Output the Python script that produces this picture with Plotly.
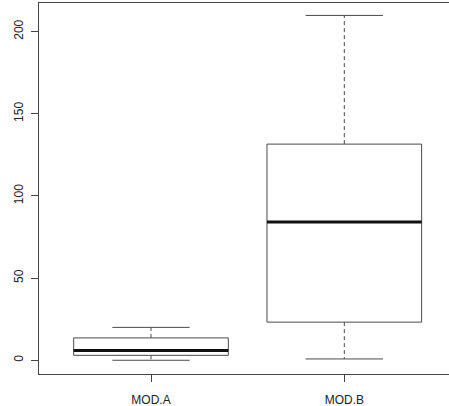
import plotly.graph_objects as go

categories = ["MOD.A", "MOD.B"]
positions = [1, 2]
lower_whisker = [0, 0.8]
q1_vals = [3.0, 23.2]
medians = [5.9, 84.1]
q3_vals = [13.6, 131.5]
upper_whisker = [20, 209.8]
y_tick_vals = [0, 50, 100, 150, 200]

BOXWEX = 0.8
STAPLE = 0.4
LINE = "#4a4a4a"

fig = go.Figure()

for i, cat in enumerate(categories):
    p = positions[i]
    fig.add_trace(go.Box(
        x=[p], q1=[q1_vals[i]], median=[medians[i]], q3=[q3_vals[i]],
        lowerfence=[q1_vals[i]], upperfence=[q3_vals[i]],
        width=BOXWEX, whiskerwidth=0, boxpoints=False,
        line=dict(color=LINE, width=1), fillcolor="rgba(255,255,255,0)",
        name=cat, showlegend=False, hoverinfo="skip",
    ))
    # dashed whiskers
    fig.add_trace(go.Scatter(
        x=[p, p, None, p, p],
        y=[q3_vals[i], upper_whisker[i], None, q1_vals[i], lower_whisker[i]],
        mode="lines", line=dict(color=LINE, width=1, dash="4px,3px"),
        showlegend=False, hoverinfo="skip",
    ))
    # staples
    fig.add_trace(go.Scatter(
        x=[p - STAPLE / 2, p + STAPLE / 2, None, p - STAPLE / 2, p + STAPLE / 2],
        y=[upper_whisker[i], upper_whisker[i], None, lower_whisker[i], lower_whisker[i]],
        mode="lines", line=dict(color=LINE, width=1),
        showlegend=False, hoverinfo="skip",
    ))
    # thick median
    fig.add_trace(go.Scatter(
        x=[p - BOXWEX / 2, p + BOXWEX / 2], y=[medians[i], medians[i]],
        mode="lines", line=dict(color="#111111", width=3),
        showlegend=False, hoverinfo="skip",
    ))

fig.update_layout(
    width=449, height=406,
    margin=dict(l=39, r=0, t=3, b=32),
    paper_bgcolor="white", plot_bgcolor="white",
    font=dict(family="Liberation Sans, Arial, sans-serif", size=12, color="#222222"),
    xaxis=dict(
        range=[0.4206, 2.5416], tickvals=positions, ticktext=categories,
        showgrid=False, zeroline=False, showline=True, mirror=True,
        linecolor="#444444", linewidth=1, ticks="outside", ticklen=7,
        tickcolor="#444444", ticklabelstandoff=8,
    ),
    yaxis=dict(
        range=[-8.36, 217.36], tickvals=y_tick_vals,
        showgrid=False, zeroline=False, showline=True, mirror=False,
        linecolor="#444444", linewidth=1, ticks="outside", ticklen=7,
        tickcolor="#444444", tickangle=-90, ticklabelstandoff=3,
    ),
)

fig.write_html("out.html")
